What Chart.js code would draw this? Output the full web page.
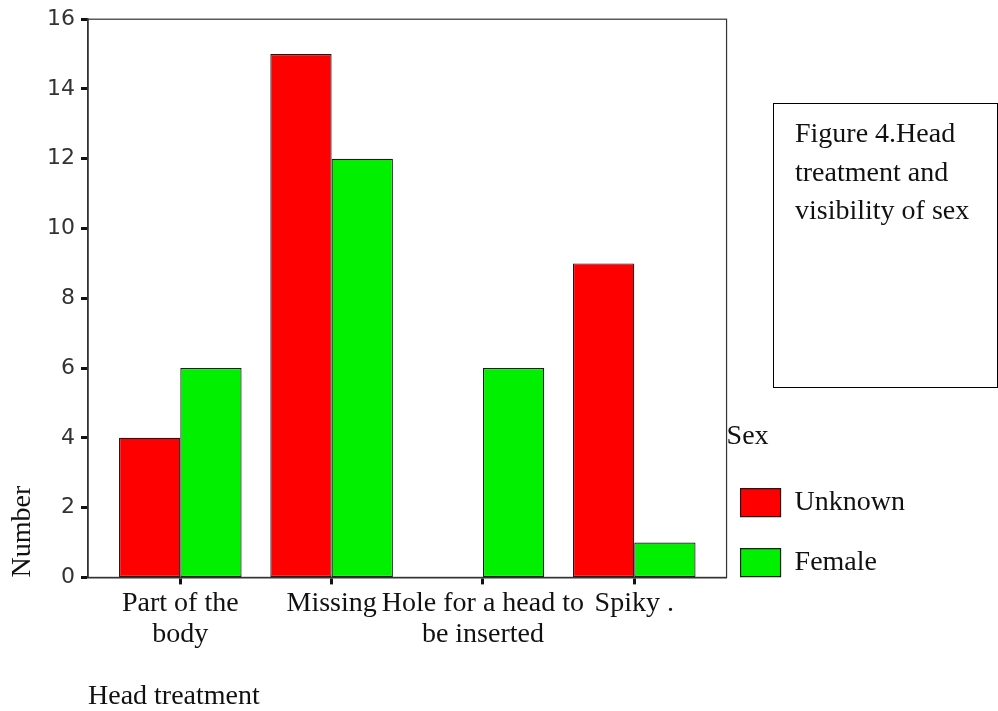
<!DOCTYPE html>
<html>
<head>
<meta charset="utf-8">
<title>Head treatment and visibility of sex</title>
<script src="https://cdn.jsdelivr.net/npm/chart.js@4.4.1/dist/chart.umd.min.js"></script>
<style>
  html, body { margin: 0; padding: 0; background: #fff; }
  #wrap { position: relative; width: 998px; height: 711px; overflow: hidden; }
  #caption {
    position: absolute; left: 773px; top: 103px; width: 225px; height: 285px;
    box-sizing: border-box; border: 1.5px solid #000;
    padding: 10px 0 0 21px;
    font-family: "Liberation Serif", "Times New Roman", serif;
    font-size: 28px; line-height: 38.5px; color: #111;
  }
</style>
</head>
<body>
<div id="wrap">
  <canvas id="chart" width="998" height="711"></canvas>
  <div id="caption">Figure 4.Head<br>treatment and<br>visibility of sex</div>
</div>
<script>
// ---- data ----
const categories = [["Part of the", "body"], "Missing", ["Hole for a head to", "be inserted"], "Spiky ."];
const seriesNames = ["Unknown", "Female"];
const unknown = [4, 15, 0, 9];
const female = [6, 12, 6, 1];
const yMin = 0, yMax = 16, yStep = 2;

// ---- defaults ----
Chart.defaults.font.family = '"Liberation Serif", "Times New Roman", serif';
Chart.defaults.color = "#111";

// bars sit on a linear x axis so the group spacing can match the original
function toPoints(values) {
    return values.map((v, i) => ({ x: i, y: v }));
}

// top + right edges of the plot frame
const frame = {
    id: "frame",
    afterDatasetsDraw(chart) {
        const { ctx, chartArea: a } = chart;
        ctx.save();
        ctx.strokeStyle = "#333";
        ctx.lineWidth = 1.2;
        ctx.strokeRect(a.left, a.top, a.right - a.left, a.bottom - a.top);
        ctx.restore();
    }
};

const axisLine = { display: true, color: "#333", width: 1.5 };

new Chart(document.getElementById("chart"), {
    type: "bar",
    data: {
        datasets: [
            { label: seriesNames[0], data: toPoints(unknown), backgroundColor: "#ff0000" },
            { label: seriesNames[1], data: toPoints(female), backgroundColor: "#00f000" }
        ]
    },
    options: {
        responsive: false,
        animation: false,
        layout: { padding: { left: 6, top: 17, right: 83, bottom: 0 } },
        datasets: {
            bar: {
                borderColor: "#1a1a1a",
                borderWidth: 1.2,
                borderSkipped: false,
                categoryPercentage: 0.81,
                barPercentage: 1.0
            }
        },
        plugins: {
            tooltip: { enabled: false },
            legend: {
                position: "right",
                align: "start",
                title: {
                    display: true,
                    text: "Sex",
                    position: "start",
                    color: "#111",
                    font: { size: 28, lineHeight: 1.2 },
                    padding: { top: 406, bottom: 18 }
                },
                labels: {
                    boxWidth: 40,
                    boxHeight: 28,
                    padding: 14,
                    color: "#111",
                    font: { size: 28, lineHeight: "46px" },
                    // array text -> row height follows font.lineHeight
                    generateLabels(chart) {
                        const items = Chart.defaults.plugins.legend.labels.generateLabels(chart);
                        items.forEach(it => { it.text = [it.text]; });
                        return items;
                    }
                }
            }
        },
        scales: {
            x: {
                type: "linear",
                min: -0.61,
                max: 3.61,
                offset: false,
                border: axisLine,
                grid: {
                    offset: false,
                    drawOnChartArea: false,
                    drawTicks: true,
                    tickLength: 7,
                    tickWidth: 3,
                    tickColor: "#111"
                },
                ticks: {
                    stepSize: 1,
                    includeBounds: false,
                    autoSkip: false,
                    maxRotation: 0,
                    minRotation: 0,
                    padding: 4,
                    color: "#111",
                    font: { size: 28, lineHeight: 1.1 },
                    callback: v => categories[v]
                },
                title: {
                    display: true,
                    text: "Head treatment",
                    align: "start",
                    color: "#111",
                    font: { size: 28, lineHeight: 1 },
                    padding: { top: 29, bottom: 0 }
                }
            },
            y: {
                min: yMin,
                max: yMax,
                border: axisLine,
                grid: {
                    drawOnChartArea: false,
                    drawTicks: true,
                    tickLength: 7,
                    tickWidth: 3,
                    tickColor: "#111"
                },
                ticks: {
                    stepSize: yStep,
                    padding: 6,
                    color: "#333",
                    font: { family: '"DejaVu Sans", sans-serif', size: 22 }
                },
                title: {
                    display: true,
                    text: "Number",
                    align: "start",
                    color: "#111",
                    font: { size: 28, lineHeight: 1.2 },
                    padding: 0
                },
                afterFit(scale) { scale.width = 82; }
            }
        }
    },
    plugins: [frame]
});
</script>
</body>
</html>
